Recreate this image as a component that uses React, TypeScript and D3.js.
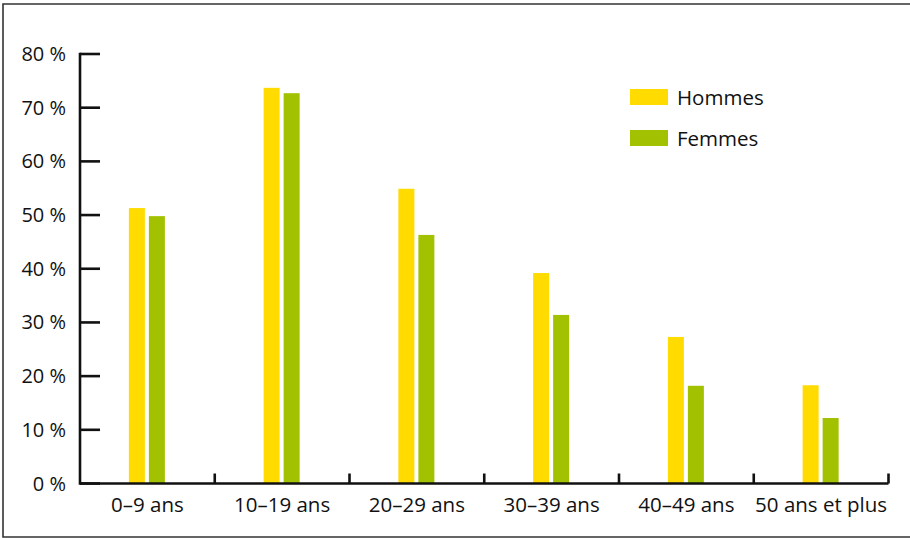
import React from "react";
import * as d3 from "d3";

const categories = ["0–9 ans", "10–19 ans", "20–29 ans", "30–39 ans", "40–49 ans", "50 ans et plus"];
const seriesNames = ["Hommes", "Femmes"];
const hommes = [51.3, 73.7, 54.9, 39.2, 27.3, 18.3];
const femmes = [49.8, 72.7, 46.3, 31.4, 18.2, 12.2];
const yTicks = [0, 10, 20, 30, 40, 50, 60, 70, 80];

const colors: Record<string, string> = { Hommes: "#FFDB00", Femmes: "#A2C100" };

const W = 910;
const H = 538;
const axisLeft = 80;
const axisRight = 888.5;
const axisBottom = 483.5;
const axisTop = 54;
const font = "'Open Sans', 'Noto Sans', sans-serif";

export default function App() {
  const x = d3.scaleBand<string>().domain(categories).range([axisLeft, axisRight]);
  const y = d3.scaleLinear().domain([0, 80]).range([axisBottom, axisTop]);
  const groupWidth = 36;
  const inner = d3.scaleBand<string>().domain(seriesNames).range([0, groupWidth]).paddingInner(0.2);
  const values: Record<string, number[]> = { Hommes: hommes, Femmes: femmes };

  const xTickPositions = categories.map((c) => (x(c) as number) + x.bandwidth());

  return (
    <svg width={W} height={H} style={{ position: "absolute", left: 0, top: 0, background: "#fff" }}>
      {/* frame */}
      <path d={`M${W},4 H3 V537 H${W}`} fill="none" stroke="#333" strokeWidth={1.6} />

      {/* bars */}
      {categories.map((c, i) => {
        const cx = (x(c) as number) + x.bandwidth() / 2 - 0.5;
        return seriesNames.map((s) => (
          <rect
            key={c + s}
            x={cx - groupWidth / 2 + (inner(s) as number)}
            y={y(values[s][i])}
            width={inner.bandwidth()}
            height={axisBottom - y(values[s][i])}
            fill={colors[s]}
          />
        ));
      })}

      {/* axes */}
      <g stroke="#111" strokeWidth={2.6} fill="none">
        <line x1={axisLeft} x2={axisLeft} y1={axisTop - 1.3} y2={axisBottom + 1.3} />
        {yTicks.map((t) => (
          <line key={t} x1={axisLeft} x2={axisLeft + 20} y1={y(t)} y2={y(t)} />
        ))}
        <line x1={axisLeft} x2={axisRight} y1={axisBottom} y2={axisBottom} />
        {xTickPositions.map((p, i) => (
          <line key={i} x1={p} x2={p} y1={axisBottom} y2={axisBottom - 10} />
        ))}
      </g>

      {yTicks.map((t) => (
        <text
          key={t}
          x={66}
          y={y(t) + 7}
          textAnchor="end"
          fontFamily={font}
          fontSize={20}
          fontWeight={500}
          fill="#111"
        >
          {`${t} %`}
        </text>
      ))}

      {categories.map((c) => (
        <text
          key={c}
          x={(x(c) as number) + x.bandwidth() / 2}
          y={512}
          textAnchor="middle"
          fontFamily={font}
          fontSize={20.5}
          fontWeight={500}
          fill="#111"
        >
          {c}
        </text>
      ))}

      {/* legend */}
      {seriesNames.map((s, i) => (
        <g key={s} transform={`translate(630, ${89 + i * 41})`}>
          <rect x={0} y={0} width={38} height={16} fill={colors[s]} />
          <text x={47} y={16} fontFamily={font} fontSize={20.5} fontWeight={500} fill="#111">
            {s}
          </text>
        </g>
      ))}
    </svg>
  );
}
